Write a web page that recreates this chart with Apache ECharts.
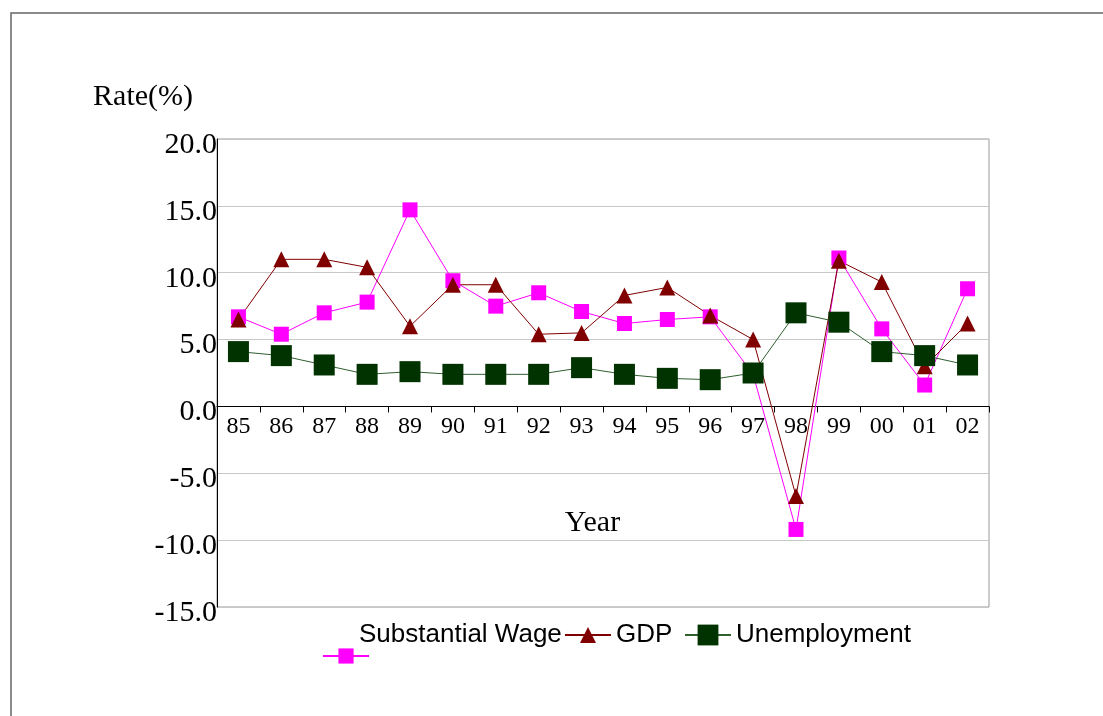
<!DOCTYPE html>
<html>
<head>
<meta charset="utf-8">
<script src="https://cdn.jsdelivr.net/npm/echarts@6/dist/echarts.min.js"></script>
<style>
  html, body { margin: 0; padding: 0; background: #fff; }
  #chart { width: 1103px; height: 716px; }
</style>
</head>
<body>
<div id="chart"></div>
<script>
// years (two-digit labels)
const years = ['85', '86', '87', '88', '89', '90', '91', '92', '93', '94', '95', '96', '97', '98', '99', '00', '01', '02']
// rates in %
const wageRate = [6.7, 5.4, 7.0, 7.8, 14.7, 9.4, 7.5, 8.5, 7.1, 6.2, 6.5, 6.7, 2.4, -9.2, 11.1, 5.8, 1.6, 8.8]
const gdpRate = [6.5, 11.0, 11.0, 10.4, 6.0, 9.1, 9.1, 5.4, 5.5, 8.3, 8.9, 6.8, 5.0, -6.7, 10.9, 9.3, 3.0, 6.2]
const unempRate = [4.1, 3.8, 3.1, 2.4, 2.6, 2.4, 2.4, 2.4, 2.9, 2.4, 2.1, 2.0, 2.5, 7.0, 6.3, 4.1, 3.8, 3.1]

const serif = 'Liberation Serif'
const sans = 'Liberation Sans'

const chart = echarts.init(document.getElementById('chart'))

const legendText = { fontFamily: sans, fontSize: 26, color: '#000' }

// plot box
const gridTop = 139
const gridHeight = 468
// x axis sits on the zero line: shift it up from the bottom edge
const zeroOffset = -gridHeight * 15 / 35

const option = {
  animation: false,
  backgroundColor: '#fff',
  graphic: [
    {
      type: 'rect',
      shape: { x: 11, y: 13, width: 1200, height: 800 },
      style: { fill: 'none', stroke: '#666', lineWidth: 1.5 },
      silent: true
    }
  ],
  legend: [
    // label of the first item, its symbol sits on the next row
    {
      data: [{ name: 'Substantial Wage', icon: 'none' }],
      left: 354, top: 622, padding: 0,
      itemWidth: 0, itemHeight: 19,
      textStyle: legendText
    },
    {
      data: ['Substantial Wage'],
      formatter: () => '',
      left: 322, top: 646.5, padding: 0,
      itemWidth: 46, itemHeight: 19,
      textStyle: { fontSize: 1 }
    },
    {
      data: ['GDP'],
      left: 564, top: 622, padding: 0,
      itemWidth: 46, itemHeight: 20,
      textStyle: legendText
    },
    {
      data: ['Unemployment'],
      left: 684, top: 622, padding: 0,
      itemWidth: 46, itemHeight: 26,
      textStyle: legendText
    }
  ],
  grid: {
    left: 217,
    top: gridTop,
    right: 114,
    height: gridHeight,
    show: true,
    borderColor: '#999',
    borderWidth: 1,
    containLabel: false,
    outerBoundsMode: 'none'
  },
  xAxis: {
    type: 'category',
    data: years,
    offset: zeroOffset,
    name: 'Year',
    nameLocation: 'middle',
    nameGap: 102,
    nameMoveOverlap: false,
    nameTextStyle: { fontFamily: serif, fontSize: 30, color: '#000', padding: [0, 21, 0, 0] },
    axisLine: { onZero: false, lineStyle: { color: '#000', width: 1 } },
    axisTick: { show: true, length: 6, lineStyle: { color: '#000' } },
    axisLabel: {
      interval: 0,
      margin: 8,
      fontFamily: serif,
      fontSize: 24,
      color: '#000'
    },
    splitLine: { show: false }
  },
  yAxis: {
    type: 'value',
    min: -15,
    max: 20,
    interval: 5,
    name: 'Rate(%)',
    nameLocation: 'end',
    nameGap: 42,
    nameMoveOverlap: false,
    nameTextStyle: {
      fontFamily: serif,
      fontSize: 30,
      color: '#000',
      align: 'right',
      verticalAlign: 'middle',
      padding: [0, 24, 0, 0]
    },
    axisLine: { show: true, lineStyle: { color: '#000', width: 1 } },
    axisTick: { show: false },
    axisLabel: {
      margin: 0,
      fontFamily: serif,
      fontSize: 30,
      color: '#000',
      verticalAlign: 'top',
      lineHeight: 12,
      formatter: v => v.toFixed(1)
    },
    splitLine: { lineStyle: { color: '#c8c8c8', width: 1 } }
  },
  series: [
    {
      name: 'Substantial Wage',
      type: 'line',
      data: wageRate,
      symbol: 'rect',
      symbolSize: 15,
      lineStyle: { color: '#ff00ff', width: 1 },
      itemStyle: { color: '#ff00ff' }
    },
    {
      name: 'GDP',
      type: 'line',
      data: gdpRate,
      symbol: 'triangle',
      symbolSize: 16,
      lineStyle: { color: '#800000', width: 1 },
      itemStyle: { color: '#800000' }
    },
    {
      name: 'Unemployment',
      type: 'line',
      data: unempRate,
      symbol: 'rect',
      symbolSize: 21,
      lineStyle: { color: '#2f5f2f', width: 1 },
      itemStyle: { color: '#003300' }
    }
  ]
}

chart.setOption(option)
</script>
</body>
</html>
